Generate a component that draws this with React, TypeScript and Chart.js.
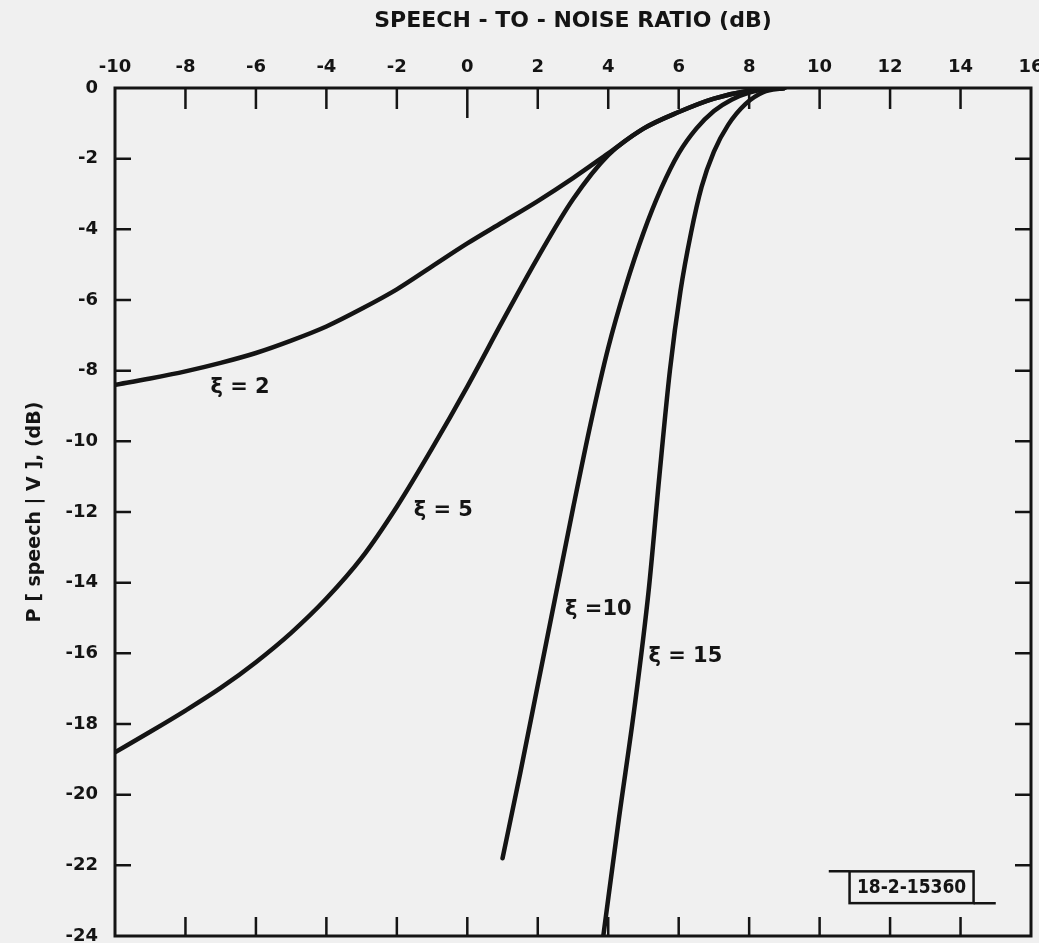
import React, { useEffect, useRef } from "react";
import { Chart, registerables } from "chart.js";

Chart.register(...registerables);

// Axis ranges / tick steps
const xRange = [-10, 16];
const yRange = [-24, 0];
const tickStep = 2;

// Curves: speech-to-noise ratio (dB) vs P[speech | V] (dB)
const snrXi2 = [-10, -9, -8, -7, -6, -5, -4, -3, -2, -1, 0, 1, 2, 3, 4, 5, 6, 7, 8, 9];
const pXi2 = [-8.4, -8.22, -8.02, -7.78, -7.5, -7.15, -6.75, -6.25, -5.7, -5.05, -4.4, -3.8, -3.2, -2.55, -1.85, -1.15, -0.68, -0.3, -0.08, 0];

const snrXi5 = [-10, -9, -8, -7, -6, -5, -4, -3, -2, -1, 0, 1, 2, 3, 4, 5, 6, 7, 8, 9];
const pXi5 = [-18.8, -18.22, -17.62, -16.98, -16.25, -15.42, -14.45, -13.3, -11.85, -10.2, -8.45, -6.6, -4.8, -3.15, -1.9, -1.15, -0.68, -0.3, -0.08, 0];

const snrXi10 = [1.0, 1.5, 2.0, 2.5, 3.0, 3.5, 4.0, 4.5, 5.0, 5.5, 6.0, 6.5, 7.0, 7.5, 8.0, 8.5, 9.0];
const pXi10 = [-21.8, -19.4, -16.9, -14.4, -11.9, -9.5, -7.35, -5.6, -4.1, -2.85, -1.85, -1.15, -0.65, -0.33, -0.13, -0.03, 0];

const snrXi15 = [3.86, 4.3, 4.75, 5.15, 5.45, 5.75, 6.05, 6.35, 6.65, 7.0, 7.4, 7.9, 8.4, 9.0];
const pXi15 = [-24, -20.7, -17.5, -14.2, -11.0, -8.0, -5.75, -4.1, -2.8, -1.8, -1.05, -0.45, -0.12, 0];

// Curve labels (anchored in data units)
const curveLabels = ["ξ = 2", "ξ = 5", "ξ =10", "ξ = 15"];
const curveLabelX = [-6.45, -0.68, 3.72, 6.19];
const curveLabelY = [-8.49, -11.97, -14.75, -16.08];

const figureId = "18-2-15360";

const xTitle = "SPEECH - TO - NOISE RATIO (dB)";
const yTitle = "P [ speech | V ], (dB)";

const INK = "#141414";
const PAPER = "#f0f0f0";
const FONT = "'DejaVu Sans', sans-serif";

function toPoints(xs: number[], ys: number[]) {
  return xs.map((x, i) => ({ x, y: ys[i] }));
}

const decorPlugin = {
  id: "decor",
  beforeDraw(chart: any) {
    const { ctx, width, height } = chart;
    ctx.save();
    ctx.fillStyle = PAPER;
    ctx.fillRect(0, 0, width, height);
    ctx.restore();
  },
  afterDatasetsDraw(chart: any) {
    const { ctx, chartArea } = chart;
    const xs = chart.scales.x;
    const ys = chart.scales.y;
    const { left, right, top, bottom } = chartArea;
    ctx.save();
    ctx.strokeStyle = INK;
    ctx.lineCap = "butt";
    // frame
    ctx.lineWidth = 3;
    ctx.strokeRect(left, top, right - left, bottom - top);
    // inward ticks top/bottom
    ctx.lineWidth = 2.5;
    for (let v = xRange[0] + tickStep; v < xRange[1]; v += tickStep) {
      const px = xs.getPixelForValue(v);
      const topLen = v === 0 ? 30 : 21;
      ctx.beginPath();
      ctx.moveTo(px, top);
      ctx.lineTo(px, top + topLen);
      ctx.moveTo(px, bottom);
      ctx.lineTo(px, bottom - 19);
      ctx.stroke();
    }
    // inward ticks left/right
    for (let v = yRange[0] + tickStep; v < yRange[1]; v += tickStep) {
      const py = ys.getPixelForValue(v);
      ctx.beginPath();
      ctx.moveTo(left, py);
      ctx.lineTo(left + 16, py);
      ctx.moveTo(right, py);
      ctx.lineTo(right - 16, py);
      ctx.stroke();
    }
    // curve labels
    ctx.fillStyle = INK;
    ctx.textAlign = "center";
    ctx.textBaseline = "middle";
    ctx.font = `bold 21px ${FONT}`;
    curveLabels.forEach((t, i) => {
      ctx.fillText(t, xs.getPixelForValue(curveLabelX[i]), ys.getPixelForValue(curveLabelY[i]));
    });
    // figure id box
    const bx0 = xs.getPixelForValue(10.85);
    const bx1 = xs.getPixelForValue(14.37);
    const by0 = ys.getPixelForValue(-22.17);
    const by1 = ys.getPixelForValue(-23.07);
    ctx.lineWidth = 2.5;
    ctx.strokeRect(bx0, by0, bx1 - bx0, by1 - by0);
    ctx.beginPath();
    ctx.moveTo(xs.getPixelForValue(10.26), by0);
    ctx.lineTo(bx0, by0);
    ctx.moveTo(bx1, by1);
    ctx.lineTo(xs.getPixelForValue(15.0), by1);
    ctx.stroke();
    ctx.font = `bold 19px 'DejaVu Sans Condensed', 'DejaVu Sans', sans-serif`;
    ctx.fillText(figureId, (bx0 + bx1) / 2, (by0 + by1) / 2 + 1);
    ctx.restore();
  },
};

export default function App() {
  const ref = useRef<HTMLCanvasElement | null>(null);

  useEffect(() => {
    if (!ref.current) return;
    document.body.style.background = PAPER;
    const mk = (xs: number[], ys: number[]) => ({
      data: toPoints(xs, ys),
      borderColor: INK,
      borderWidth: 4.5,
      pointRadius: 0,
      fill: false,
      cubicInterpolationMode: "monotone" as const,
      borderCapStyle: "round" as const,
    });
    const chart = new Chart(ref.current, {
      type: "line",
      data: {
        datasets: [
          { label: curveLabels[0], ...mk(snrXi2, pXi2) },
          { label: curveLabels[1], ...mk(snrXi5, pXi5) },
          { label: curveLabels[2], ...mk(snrXi10, pXi10) },
          { label: curveLabels[3], ...mk(snrXi15, pXi15) },
        ],
      },
      options: {
        responsive: false,
        animation: false,
        layout: { padding: { left: 0, top: 0, right: 8, bottom: 7 } },
        plugins: { legend: { display: false }, tooltip: { enabled: false } },
        scales: {
          x: {
            type: "linear",
            position: "top",
            min: xRange[0],
            max: xRange[1],
            grid: { display: false, drawTicks: false },
            border: { display: false },
            ticks: {
              stepSize: tickStep,
              color: INK,
              padding: 10,
              maxRotation: 0,
              autoSkip: false,
              font: { family: FONT, size: 18, weight: "bold" },
            },
            title: {
              display: true,
              text: xTitle,
              color: INK,
              padding: { top: 8, bottom: 0 },
              font: { family: FONT, size: 22, weight: "bold" },
            },
            afterFit: (s: any) => {
              s.height = 88;
              s.paddingLeft = 0;
              s.paddingRight = 0;
            },
          },
          y: {
            type: "linear",
            min: yRange[0],
            max: yRange[1],
            grid: { display: false, drawTicks: false },
            border: { display: false },
            ticks: {
              stepSize: tickStep,
              color: INK,
              padding: 17,
              autoSkip: false,
              font: { family: FONT, size: 18, weight: "bold" },
            },
            title: {
              display: true,
              text: yTitle,
              color: INK,
              padding: { top: 24, bottom: 0 },
              font: { family: FONT, size: 19, weight: "bold" },
            },
            afterFit: (s: any) => {
              s.width = 115;
              s.paddingTop = 0;
              s.paddingBottom = 0;
            },
          },
        },
      },
      plugins: [decorPlugin],
    });
    return () => chart.destroy();
  }, []);

  return (
    <div style={{ position: "absolute", left: 0, top: 0, width: 1039, height: 943, background: PAPER }}>
      <canvas ref={ref} width={1039} height={943} style={{ display: "block", width: 1039, height: 943 }} />
    </div>
  );
}
